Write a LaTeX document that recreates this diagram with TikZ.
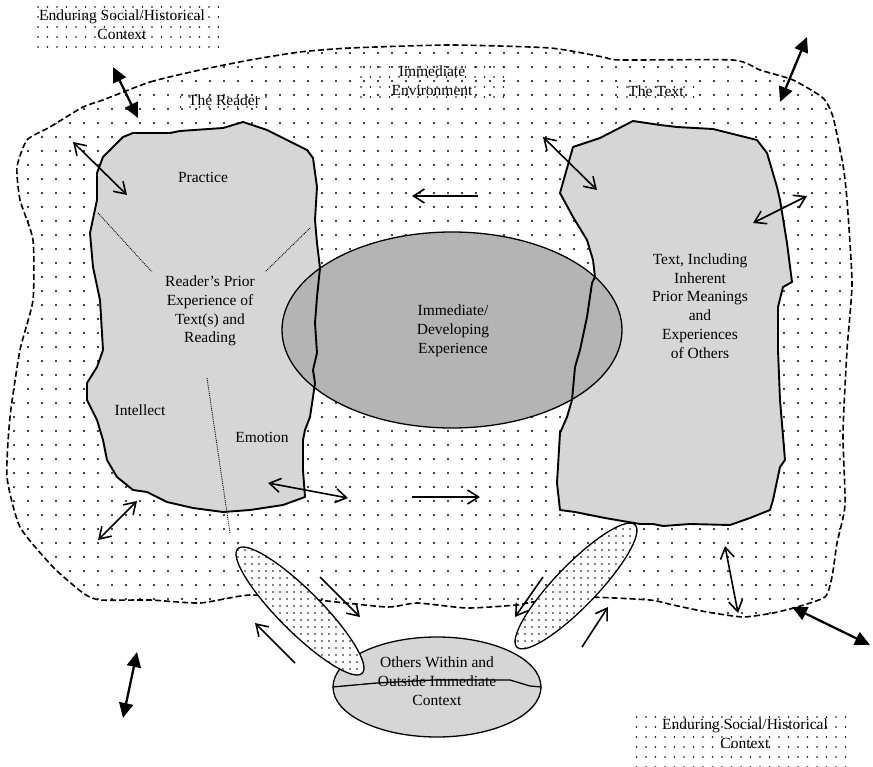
\documentclass[tikz,border=0pt]{standalone}
\usepackage{fontspec}
\setmainfont{Liberation Serif}
\usetikzlibrary{patterns,arrows.meta,shapes.geometric}
\definecolor{rockgray}{HTML}{D6D6D6}
\definecolor{expgray}{HTML}{B4B4B4}
\pgfdeclarepatternformonly{envdots}{\pgfqpoint{-1.5pt}{-1.5pt}}{\pgfqpoint{1.5pt}{1.5pt}}{\pgfqpoint{14pt}{14pt}}{\pgfpathcircle{\pgfqpoint{0pt}{0pt}}{1.15pt}\pgfusepath{fill}}
\pgfdeclarepatternformonly{labeldots}{\pgfqpoint{-1pt}{-1pt}}{\pgfqpoint{1pt}{1pt}}{\pgfqpoint{9.5pt}{10pt}}{\pgfpathcircle{\pgfqpoint{0pt}{0pt}}{0.8pt}\pgfusepath{fill}}
\pgfdeclarepatternformonly{densedots}{\pgfqpoint{-1pt}{-1pt}}{\pgfqpoint{1pt}{1pt}}{\pgfqpoint{7pt}{7pt}}{\pgfpathcircle{\pgfqpoint{0pt}{0pt}}{0.9pt}\pgfusepath{fill}}
\tikzset{
  lbl/.style={font=\fontsize{15.5}{18.8}\selectfont, align=center, inner sep=0pt},
  envline/.style={dash pattern=on 6pt off 3pt, line width=1.6pt},
  rockline/.style={line width=1.9pt, line join=round},
  oarr/.style={line width=1.6pt, arrows={Straight Barb[length=11pt,width=14pt,line width=1.6pt]-Straight Barb[length=11pt,width=14pt,line width=1.6pt]}},
  oarrone/.style={line width=1.6pt, arrows={-Straight Barb[length=11pt,width=14pt,line width=1.6pt]}},
  bigarr/.style={line width=2.3pt, arrows={Triangle[length=15pt,width=14pt]-Triangle[length=15pt,width=14pt]}},
  sepline/.style={densely dotted, line width=0.9pt},
}
\begin{document}
\begin{tikzpicture}[x=1pt,y=-1pt]
\useasboundingbox (0,0) rectangle (873,767);

% enduring context label boxes
\path[pattern=labeldots] (33,4) rectangle (219,48);
\path[pattern=labeldots] (635,712) rectangle (852,766);

% immediate environment
\draw[envline, pattern=envdots] plot[smooth cycle, tension=0.35] coordinates {
(103,100) (150,82) (200,70) (250,60) (300,52) (350,48) (450,45) (550,48) (603,57) (620,60)
(733,60) (760,70) (793,80) (823,98) (833,117) (843,165) (847,200) (852,283) (847,350)
(843,433) (845,505) (837,543) (832,577) (825,597) (797,607) (773,613) (743,617) (707,612)
(673,605) (650,600) (583,597) (533,602) (517,605) (467,608) (417,603) (387,607) (317,600)
(250,595) (200,603) (150,600) (100,600) (83,593) (53,567) (20,527) (7,477) (10,417)
(20,350) (33,300) (33,240) (20,200) (17,167) (27,140) (50,127) (83,107)};

% small dotted label backgrounds
\path[pattern=labeldots] (358,58) rectangle (505,102);
\path[pattern=labeldots] (180,88) rectangle (270,112);
\path[pattern=labeldots] (615,80) rectangle (700,102);

% rock fills
\path[fill=rockgray] (97,173) -- (103,157) -- (123,137) -- (133,133) -- (170,133) -- (180,131) -- (223,128) -- (243,122) -- (267,130) -- (307,150) -- (313,158) -- (317,187) -- (315,220) -- (317,243) -- (320,268) -- (317,297) -- (315,323) -- (317,353) -- (313,370) -- (315,383) -- (313,397) -- (310,417) -- (305,430) -- (303,440) -- (303,470) -- (305,497) -- (283,505) -- (250,510) -- (223,512) -- (193,508) -- (167,502) -- (147,492) -- (133,490) -- (117,477) -- (107,460) -- (103,440) -- (97,420) -- (87,400) -- (87,383) -- (97,367) -- (103,350) -- (100,300) -- (93,267) -- (90,233) -- (97,200) -- cycle;
\path[fill=rockgray] (573,147) -- (600,138) -- (633,121) -- (660,125) -- (677,127) -- (713,129) -- (757,140) -- (767,153) -- (777,187) -- (780,200) -- (787,243) -- (792,282) -- (783,287) -- (778,307) -- (778,350) -- (780,400) -- (785,460) -- (780,467) -- (773,500) -- (770,510) -- (750,518) -- (730,525) -- (690,524) -- (663,526) -- (653,524) -- (640,524) -- (605,518) -- (575,512) -- (560,510) -- (557,483) -- (560,433) -- (567,417) -- (572,400) -- (575,367) -- (580,350) -- (587,317) -- (592,283) -- (595,277) -- (593,260) -- (587,240) -- (573,217) -- (560,193) -- cycle;

% immediate / developing experience
\node[ellipse, draw, line width=1.3pt, fill=expgray, minimum width=340pt, minimum height=196pt, inner sep=0pt] (exp) at (452,330) {};

% rock outlines
\draw[rockline] (97,173) -- (103,157) -- (123,137) -- (133,133) -- (170,133) -- (180,131) -- (223,128) -- (243,122) -- (267,130) -- (307,150) -- (313,158) -- (317,187) -- (315,220) -- (317,243) -- (320,268) -- (317,297) -- (315,323) -- (317,353) -- (313,370) -- (315,383) -- (313,397) -- (310,417) -- (305,430) -- (303,440) -- (303,470) -- (305,497) -- (283,505) -- (250,510) -- (223,512) -- (193,508) -- (167,502) -- (147,492) -- (133,490) -- (117,477) -- (107,460) -- (103,440) -- (97,420) -- (87,400) -- (87,383) -- (97,367) -- (103,350) -- (100,300) -- (93,267) -- (90,233) -- (97,200) -- cycle;
\draw[rockline] (573,147) -- (600,138) -- (633,121) -- (660,125) -- (677,127) -- (713,129) -- (757,140) -- (767,153) -- (777,187) -- (780,200) -- (787,243) -- (792,282) -- (783,287) -- (778,307) -- (778,350) -- (780,400) -- (785,460) -- (780,467) -- (773,500) -- (770,510) -- (750,518) -- (730,525) -- (690,524) -- (663,526) -- (653,524) -- (640,524) -- (605,518) -- (575,512) -- (560,510) -- (557,483) -- (560,433) -- (567,417) -- (572,400) -- (575,367) -- (580,350) -- (587,317) -- (592,283) -- (595,277) -- (593,260) -- (587,240) -- (573,217) -- (560,193) -- cycle;

% dotted separators in reader rock
\draw[sepline] (98,213) -- (152,272);
\draw[sepline] (310,228) -- (265,272);
\draw[sepline] (207,378) -- (230,533);

% others ellipse
\node[ellipse, draw, line width=1.3pt, fill=rockgray, minimum width=208pt, minimum height=100pt, inner sep=0pt] (others) at (437,687) {};
\node[lbl] (otherstxt) at (437,681) {Others Within and\\Outside Immediate\\Context};
\draw[line width=1.3pt] (others.west) -- (377,683) -- (433,680) -- (510,680) -- (530,686) -- (others.east);

% thin dotted ellipses
\node[ellipse, draw, line width=1.3pt, preaction={fill=white}, pattern=densedots, minimum width=176pt, minimum height=42pt, inner sep=0pt, rotate=-45] (lring) at (300,611) {};
\node[ellipse, draw, line width=1.3pt, preaction={fill=white}, pattern=densedots, minimum width=170pt, minimum height=42pt, inner sep=0pt, rotate=46] (rring) at (576,586) {};

% big filled arrows
\draw[bigarr] (113,67) -- (138,118);
\draw[bigarr] (807,37) -- (780,102);
\draw[bigarr] (792,607) -- (870,645);
\draw[bigarr] (137,652) -- (123,718);

% open double arrows
\draw[oarr] (73,142) -- (127,195);
\draw[oarr] (543,137) -- (597,190);
\draw[oarr] (753,223) -- (807,196);
\draw[oarr] (137,501) -- (98,540);
\draw[oarr] (268,483) -- (348,498);
\draw[oarr] (725,546) -- (738,613);

% single open arrows
\draw[oarrone] (478,196) -- (412,196);
\draw[oarrone] (412,497) -- (480,497);
\draw[oarrone] (320,577) -- (360,617);
\draw[oarrone] (295,663) -- (255,623);
\draw[oarrone] (543,577) -- (515,617);
\draw[oarrone] (582,647) -- (608,607);

% labels
\node[lbl] (endtl) at (122,24.5) {Enduring Social/Historical\\Context};
\node[lbl] (endbr) at (745,734) {Enduring Social/Historical\\Context};
\node[lbl] (envlbl) at (432,81) {Immediate\\Environment};
\node[lbl] (reader) at (224,100) {The Reader};
\node[lbl] (text) at (656,91) {The Text};
\node[lbl] (practice) at (203,177) {Practice};
\node[lbl] (prior) at (210,311) {Reader's Prior\\Experience of\\Text(s) and\\Reading};
\node[lbl] (intellect) at (140,410) {Intellect};
\node[lbl] (emotion) at (262,437) {Emotion};
\node[lbl] (exptxt) at (453,331) {Immediate/\\Developing\\Experience};
\node[lbl] (texttxt) at (700,306) {Text, Including\\Inherent\\Prior Meanings\\and\\Experiences\\of Others};
\end{tikzpicture}
\end{document}
